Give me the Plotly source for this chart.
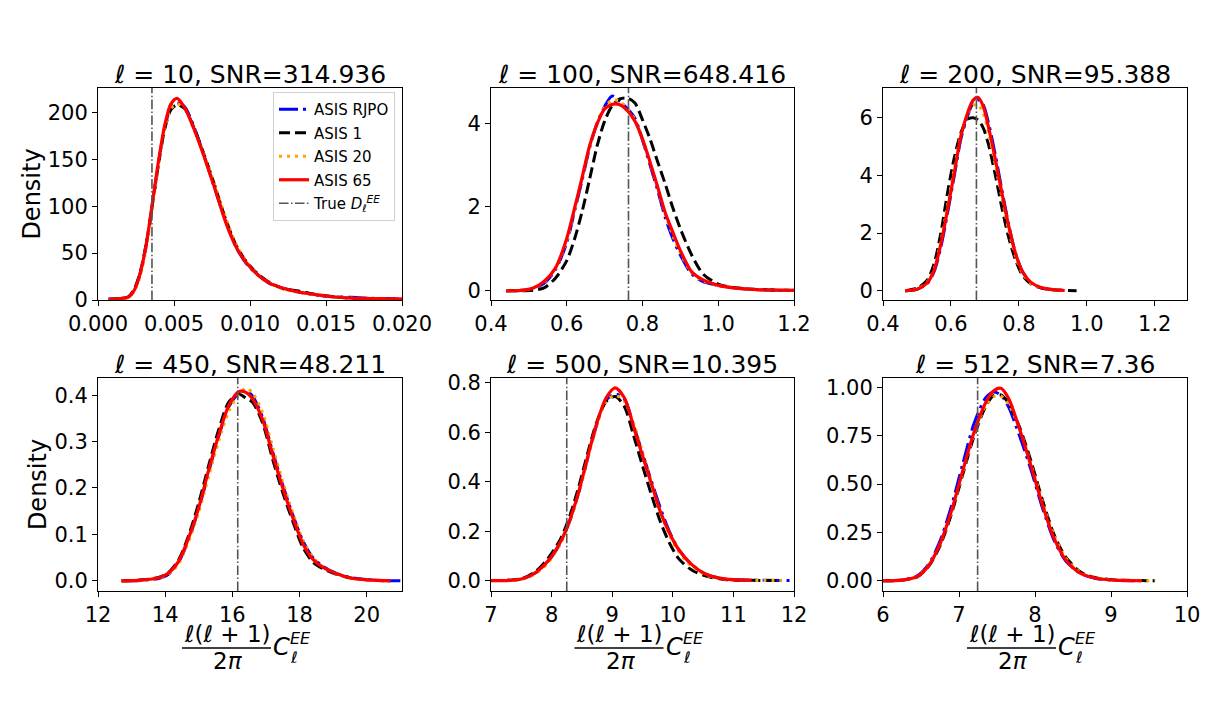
import plotly.graph_objects as go

# the page shows the figure 8 px in from the window corner
W, H = 1208, 704
OFF = 8

# panel labels
ells = [10, 100, 200, 450, 500, 512]
snrs = ['314.936', '648.416', '95.388', '48.211', '10.395', '7.36']
true_vals = [0.00355, 0.763, 0.675, 16.16, 8.25, 7.245]

series_names = ['ASIS RJPO', 'ASIS 1', 'ASIS 20', 'ASIS 65']

# l = 10
x10 = [0.0007, 0.0015, 0.0020, 0.0024, 0.0028, 0.0032, 0.0036, 0.0040, 0.0044, 0.0048,
       0.0052, 0.0057, 0.0063, 0.0070, 0.0077, 0.0084, 0.0091, 0.0098, 0.0105, 0.0113,
       0.0122, 0.0132, 0.0143, 0.0155, 0.0167, 0.0180, 0.0200]
rjpo10 = [0.9, 1.6, 3.2, 11, 30, 61, 104, 148, 185, 205, 210, 206, 185, 153, 118, 84, 56, 38,
          27, 17.5, 12.5, 8.5, 5.5, 3.5, 2.8, 1.8, 1.0]
a1_10 = [0.8, 1.5, 3.5, 12, 31, 62, 104, 147, 183, 203, 208, 204, 184, 154, 121, 86, 58, 40,
         28, 18.5, 12, 9.5, 6.0, 3.5, 2.0, 1.5, 0.8]
a20_10 = [0.5, 1.2, 2.8, 10, 27, 58, 101, 146, 184, 204, 209, 204, 182, 154, 122, 88, 59, 40,
          27, 18, 11.5, 8.0, 5.5, 3.3, 2.0, 1.5, 0.9]
a65_10 = [1, 1.5, 3, 11, 30, 62, 106, 150, 187, 209, 215, 205, 183, 152, 118, 83, 56, 39,
          27, 18, 12.5, 8.5, 5.7, 3.2, 2.0, 1.6, 1.0]

# l = 100
x100 = [0.44, 0.48, 0.51, 0.54, 0.57, 0.60, 0.62, 0.64, 0.66, 0.68, 0.70, 0.72, 0.74, 0.76,
        0.78, 0.80, 0.82, 0.84, 0.86, 0.88, 0.90, 0.93, 0.96, 1.00, 1.04, 1.10, 1.20]
rjpo100 = [0.0, 0.01, 0.05, 0.18, 0.50, 1.15, 1.88, 2.62, 3.40, 4.00, 4.40, 4.65, 4.52, 4.35,
           4.12, 3.60, 3.00, 2.40, 1.75, 1.25, 0.85, 0.40, 0.22, 0.13, 0.07, 0.03, 0.01]
a1_100 = [0.0, 0.0, 0.01, 0.07, 0.30, 0.72, 1.22, 1.87, 2.65, 3.45, 4.05, 4.42, 4.58, 4.60,
          4.48, 4.08, 3.62, 3.08, 2.55, 1.98, 1.48, 0.85, 0.40, 0.16, 0.08, 0.03, 0.01]
a20_100 = [0.0, 0.01, 0.06, 0.20, 0.53, 1.20, 1.92, 2.68, 3.42, 4.00, 4.38, 4.55, 4.52, 4.35,
           4.08, 3.62, 3.05, 2.45, 1.82, 1.32, 0.90, 0.43, 0.24, 0.13, 0.07, 0.03, 0.01]
a65_100 = [0.0, 0.01, 0.06, 0.22, 0.54, 1.25, 1.95, 2.68, 3.45, 3.98, 4.34, 4.45, 4.44, 4.30,
           4.05, 3.62, 3.07, 2.48, 1.86, 1.40, 0.96, 0.45, 0.26, 0.13, 0.07, 0.03, 0.01]

# l = 200
x200 = [0.465, 0.50, 0.53, 0.55, 0.57, 0.59, 0.61, 0.63, 0.65, 0.665, 0.68, 0.695, 0.71, 0.73,
        0.75, 0.77, 0.79, 0.81, 0.835, 0.865, 0.895, 0.935, 0.97]
rjpo200 = [0, 0.05, 0.25, 0.65, 1.50, 2.70, 4.00, 5.30, 6.10, 6.50, 6.62, 6.45, 5.85, 4.75,
           3.50, 2.30, 1.30, 0.68, 0.28, 0.10, 0.04, 0.01, None]
a1_200 = [0, 0.09, 0.37, 0.92, 1.98, 3.40, 4.62, 5.50, 5.95, 6.00, 5.92, 5.65, 5.10, 4.05,
          2.88, 1.85, 1.08, 0.55, 0.24, 0.10, 0.04, 0.01, 0.0]
a20_200 = [0, 0.06, 0.30, 0.75, 1.70, 2.95, 4.25, 5.45, 6.15, 6.42, 6.45, 6.15, 5.50, 4.40,
           3.25, 2.10, 1.20, 0.62, 0.26, 0.10, 0.04, 0.01, None]
a65_200 = [0, 0.05, 0.27, 0.70, 1.60, 2.80, 4.10, 5.40, 6.20, 6.60, 6.70, 6.40, 5.70, 4.60,
           3.40, 2.25, 1.30, 0.68, 0.30, 0.11, 0.05, 0.01, None]

# l = 450
x450 = [12.7, 13.3, 13.8, 14.1, 14.4, 14.7, 15.0, 15.3, 15.6, 15.9, 16.2, 16.4, 16.6, 16.9,
        17.2, 17.5, 17.8, 18.1, 18.4, 18.7, 19.1, 19.6, 20.2, 20.7, 21.0]
rjpo450 = [0.0, 0.001, 0.005, 0.014, 0.040, 0.090, 0.155, 0.236, 0.313, 0.376, 0.405, 0.410,
           0.398, 0.352, 0.278, 0.206, 0.142, 0.086, 0.050, 0.031, 0.016, 0.006, 0.0015,
           0.0003, 0.0]
a1_450 = [0.0, 0.002, 0.007, 0.018, 0.045, 0.098, 0.168, 0.250, 0.327, 0.386, 0.402, 0.394,
          0.385, 0.340, 0.262, 0.190, 0.128, 0.072, 0.040, 0.026, 0.014, 0.005, 0.0012, 0.0,
          None]
a20_450 = [0.0, 0.0012, 0.005, 0.014, 0.037, 0.085, 0.148, 0.226, 0.303, 0.366, 0.403, 0.415,
           0.405, 0.362, 0.288, 0.214, 0.146, 0.088, 0.050, 0.030, 0.015, 0.005, 0.0012, 0.0,
           None]
a65_450 = [0.0, 0.0015, 0.0065, 0.017, 0.042, 0.093, 0.158, 0.240, 0.316, 0.379, 0.408, 0.406,
           0.392, 0.347, 0.272, 0.200, 0.136, 0.080, 0.046, 0.029, 0.015, 0.005, 0.0013, 0.0,
           None]

# l = 500
x500 = [7.0, 7.35, 7.55, 7.75, 7.95, 8.15, 8.3, 8.45, 8.6, 8.75, 8.9, 9.05, 9.2, 9.35, 9.5,
        9.65, 9.8, 9.95, 10.1, 10.3, 10.55, 10.85, 11.3, 11.8, 11.95]
rjpo500 = [0.0, 0.002, 0.010, 0.034, 0.080, 0.155, 0.242, 0.358, 0.500, 0.635, 0.730, 0.755,
           0.735, 0.630, 0.515, 0.400, 0.290, 0.195, 0.125, 0.068, 0.025, 0.007, 0.002, 0.0005,
           0.0]
a1_500 = [0.0, 0.003, 0.012, 0.040, 0.093, 0.170, 0.262, 0.382, 0.520, 0.645, 0.725, 0.745,
          0.705, 0.590, 0.465, 0.345, 0.235, 0.150, 0.088, 0.045, 0.018, 0.005, 0.001, 0.0,
          None]
a20_500 = [0.0, 0.002, 0.009, 0.030, 0.075, 0.150, 0.240, 0.355, 0.495, 0.630, 0.725, 0.750,
           0.725, 0.640, 0.520, 0.395, 0.275, 0.180, 0.115, 0.060, 0.022, 0.006, 0.001, 0.0,
           None]
a65_500 = [0.0, 0.002, 0.010, 0.035, 0.082, 0.158, 0.245, 0.362, 0.505, 0.640, 0.740, 0.780,
           0.740, 0.625, 0.505, 0.390, 0.275, 0.190, 0.125, 0.068, 0.026, 0.007, 0.001, None,
           None]

# l = 512
x512 = [6.0, 6.25, 6.45, 6.6, 6.75, 6.9, 7.05, 7.2, 7.35, 7.45, 7.55, 7.65, 7.8, 7.95, 8.1,
        8.25, 8.4, 8.6, 8.8, 9.05, 9.4, 9.58]
rjpo512 = [0.0, 0.004, 0.025, 0.085, 0.205, 0.385, 0.605, 0.815, 0.945, 0.975, 0.960, 0.900,
           0.745, 0.570, 0.375, 0.210, 0.105, 0.037, 0.012, 0.003, 0.0, None]
a1_512 = [0.0, 0.003, 0.020, 0.074, 0.180, 0.345, 0.550, 0.750, 0.900, 0.955, 0.960, 0.920,
          0.790, 0.615, 0.415, 0.240, 0.125, 0.045, 0.016, 0.004, 0.001, 0.0]
a20_512 = [0.0, 0.003, 0.022, 0.080, 0.190, 0.355, 0.560, 0.760, 0.905, 0.950, 0.955, 0.915,
           0.780, 0.600, 0.405, 0.235, 0.120, 0.042, 0.015, 0.004, 0.001, 0.0]
a65_512 = [0.0, 0.003, 0.022, 0.078, 0.190, 0.360, 0.570, 0.770, 0.920, 0.980, 0.995, 0.945,
           0.780, 0.590, 0.390, 0.220, 0.110, 0.038, 0.013, 0.003, 0.0, None]

panels = [
    (x10, [rjpo10, a1_10, a20_10, a65_10]),
    (x100, [rjpo100, a1_100, a20_100, a65_100]),
    (x200, [rjpo200, a1_200, a20_200, a65_200]),
    (x450, [rjpo450, a1_450, a20_450, a65_450]),
    (x500, [rjpo500, a1_500, a20_500, a65_500]),
    (x512, [rjpo512, a1_512, a20_512, a65_512]),
]

x_ranges = [[0, 0.02], [0.4, 1.2], [0.4, 1.295], [12, 21.05], [7, 12], [6, 10]]
y_ranges = [[0, 226], [-0.22, 4.84], [-0.32, 7.03], [-0.022, 0.437], [-0.042, 0.82], [-0.053, 1.048]]
x_dticks = [0.005, 0.2, 0.2, 2, 1, 1]
x_formats = ['.3f', '.1f', '.1f', 'd', 'd', 'd']
y_dticks = [50, 2, 2, 0.1, 0.2, 0.25]
y_formats = ['d', 'd', 'd', '.1f', '.1f', '.2f']

styles = [
    dict(color='blue', width=3, dash='19px,5px,3px,5px'),
    dict(color='black', width=3, dash='11px,5px'),
    dict(color='orange', width=3, dash='3px,5px'),
    dict(color='red', width=3.2),
]

# pixel boxes of the axes, in window pixels
cols = [(98, 402), (491, 794), (883, 1187)]
rows = [(88, 300), (378, 591)]

def px(p):
    return (p - OFF) / W

def py(p):
    return 1 - (p - OFF) / H

FONT = 'DejaVu Sans'
fig = go.Figure()
annotations = []
shapes = []

for i, (xs, ys_list) in enumerate(panels):
    n = i + 1
    r, c = divmod(i, 3)
    xa = 'x' if n == 1 else f'x{n}'
    ya = 'y' if n == 1 else f'y{n}'
    for name, ys, st in zip(series_names, ys_list, styles):
        fig.add_trace(go.Scatter(
            x=xs, y=ys, mode='lines', name=name, legendgroup=name,
            line=dict(shape='spline', smoothing=0.8, **st),
            xaxis=xa, yaxis=ya, showlegend=(n == 1), hoverinfo='skip'))

    shapes.append(dict(
        type='line', xref=xa, yref=f'{ya} domain', x0=true_vals[i], x1=true_vals[i], y0=0, y1=1,
        line=dict(color='#555555', width=1.6, dash='9.6px,2.4px,1.5px,2.4px'),
        showlegend=(n == 1), legendgroup='true',
        name='True <i>D</i><sub><i>ℓ</i></sub><sup><i>EE</i></sup>'))

    l, rr = cols[c]
    t, b = rows[r]
    axis_common = dict(showline=True, mirror=True, linecolor='black', linewidth=1,
                       ticks='outside', ticklen=5, tickwidth=1, tickcolor='black',
                       showgrid=False, zeroline=False, automargin=False,
                       tickfont=dict(family=FONT, size=21, color='black'))
    fig.layout[f'xaxis{n if n > 1 else ""}'] = dict(
        domain=[px(l), px(rr)], anchor=ya, range=x_ranges[i], dtick=x_dticks[i],
        tick0=x_ranges[i][0], tickformat=x_formats[i], **axis_common)
    ytitle = dict(text='Density', font=dict(family=FONT, size=24, color='black'), standoff=0) \
        if c == 0 else None
    fig.layout[f'yaxis{n if n > 1 else ""}'] = dict(
        domain=[py(b), py(t)], anchor=xa, range=y_ranges[i], dtick=y_dticks[i], tick0=0,
        tickformat=y_formats[i], title=ytitle, **axis_common)

    cx = (l + rr) / 2
    annotations.append(dict(
        text=f'<i>ℓ</i> = {ells[i]}, SNR={snrs[i]}', x=px(cx), y=py(t - 14),
        xanchor='center', yanchor='middle',
        font=dict(family=FONT, size=25, color='black')))

    if r == 1:
        f = dict(family=FONT, color='black')
        annotations += [
            dict(text='<i>ℓ</i>(<i>ℓ</i> + 1)', x=px(cx - 23), y=py(634), font=dict(size=23, **f),
                 xanchor='center', yanchor='middle', borderpad=0),
            dict(text='2<i>π</i>', x=px(cx - 22), y=py(661), font=dict(size=23, **f),
                 xanchor='center', yanchor='middle', borderpad=0),
            dict(text='<i>C</i>', x=px(cx + 22), y=py(647), font=dict(size=24, **f),
                 xanchor='left', yanchor='middle', borderpad=0),
            dict(text='<i>EE</i>', x=px(cx + 39), y=py(638), font=dict(size=16, **f),
                 xanchor='left', yanchor='middle', borderpad=0),
            dict(text='<i>ℓ</i>', x=px(cx + 39), y=py(657), font=dict(size=16, **f),
                 xanchor='left', yanchor='middle', borderpad=0),
        ]
        shapes.append(dict(type='line', xref='paper', yref='paper', x0=px(cx - 68), x1=px(cx + 21),
                           y0=py(648), y1=py(648), line=dict(color='black', width=1.3)))

for a in annotations:
    a.setdefault('xref', 'paper')
    a.setdefault('yref', 'paper')
    a.setdefault('showarrow', False)

fig.update_layout(
    width=W, height=H, margin=dict(l=0, r=0, t=0, b=0, autoexpand=False),
    plot_bgcolor='white', paper_bgcolor='white',
    font=dict(family=FONT, color='black'),
    annotations=annotations, shapes=shapes,
    legend=dict(x=px(395), y=py(92), xanchor='right', yanchor='top', itemwidth=30,
                bgcolor='rgba(255,255,255,0.8)', bordercolor='#d0d0d0', borderwidth=1,
                font=dict(family=FONT, size=15, color='black'), tracegroupgap=1),
)

fig.write_html('out.html')
